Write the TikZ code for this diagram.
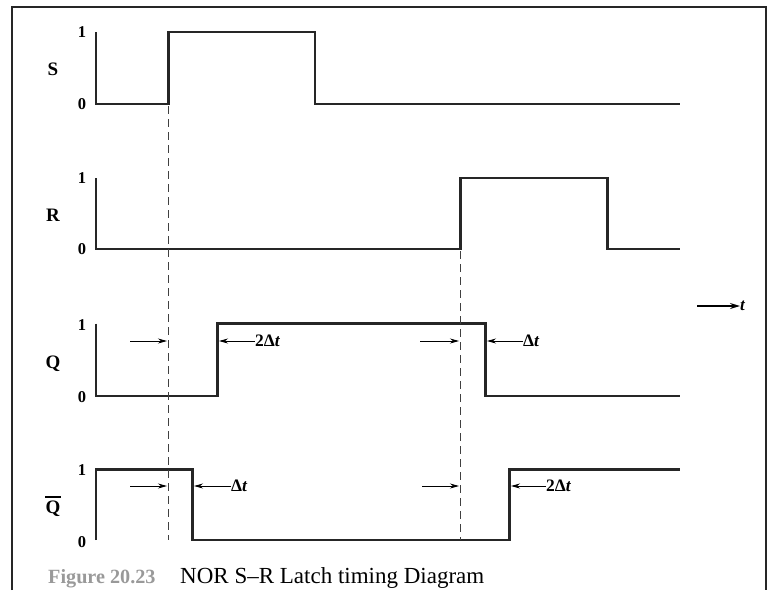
\documentclass[tikz,border=0pt]{standalone}
\usepackage{fontspec}
\setmainfont{Liberation Serif}
\usetikzlibrary{arrows.meta}
\begin{document}
\begin{tikzpicture}[x=1pt,y=-1pt,
  wave/.style={line width=2.2pt, line join=miter, color=black!85},
  guide/.style={line width=0.9pt, dash pattern=on 8pt off 5pt, color=black!75},
  frm/.style={line width=1.8pt, color=black!85},
  marker/.style={line width=0.8pt, -{Stealth[length=9pt,width=5pt]}},
  lvl/.style={font=\fontsize{16.5}{18}\selectfont\bfseries, inner sep=0pt},
  sig/.style={font=\fontsize{19}{22}\selectfont\bfseries, inner sep=0pt},
  dl/.style={font=\fontsize{17.5}{20}\selectfont\bfseries, inner sep=0pt, anchor=west}]
\useasboundingbox (0,0) rectangle (771,590);
% frame
\draw[frm] (12,590) -- (12,7) -- (766,7) -- (766,590);

% S
\node[sig] (sS) at (53,69) {S};
\node[lvl] (s1) at (82,32) {1};
\node[lvl] (s0) at (82,104) {0};
\draw[wave] (96,32) -- (96,104) -- (168.5,104) -- (168.5,32) -- (315,32) -- (315,104) -- (680,104);

% R
\node[sig] (sR) at (53,215) {R};
\node[lvl] (r1) at (82,178) {1};
\node[lvl] (r0) at (82,249) {0};
\draw[wave] (96,178) -- (96,249) -- (460.5,249) -- (460.5,178) -- (607.5,178) -- (607.5,249) -- (680,249);

% Q
\node[sig, anchor=base] (sQ) at (53,368) {Q};
\node[lvl] (q1) at (82,325) {1};
\node[lvl] (q0) at (82,397) {0};
\draw[wave] (96,323.5) -- (96,396) -- (217.5,396) -- (217.5,323.5) -- (485.5,323.5) -- (485.5,396) -- (680,396);

% Qbar
\node[sig, anchor=base] (sQb) at (53,513) {Q};
\draw[line width=1.8pt] ([yshift=3.5pt]sQb.north west) -- ([yshift=3.5pt]sQb.north east);
\node[lvl] (b1) at (82,470) {1};
\node[lvl] (b0) at (82,542) {0};
\draw[wave] (96,540) -- (96,469.5) -- (192.5,469.5) -- (192.5,540) -- (509.5,540) -- (509.5,469.5) -- (680,469.5);

% dashed guides
\coordinate (g1t) at (168.5,106);
\coordinate (g1b) at (168.5,540);
\coordinate (g2t) at (460.5,251);
\coordinate (g2b) at (460.5,540);
\draw[guide] (g1t) -- (g1b);
\draw[guide] (g2t) -- (g2b);

% delay markers, Q row
\coordinate (a1s) at (130,341); \coordinate (a1e) at (167,341);
\draw[marker] (a1s) -- (a1e);
\node[dl] (d1) at (255,341) {2Δ\textit{t}};
\coordinate (a2e) at (219,341);
\draw[marker] (d1.west) -- (a2e);
\coordinate (a3s) at (420,341); \coordinate (a3e) at (459,341);
\draw[marker] (a3s) -- (a3e);
\node[dl] (d2) at (523,341) {Δ\textit{t}};
\coordinate (a4e) at (487,341);
\draw[marker] (d2.west) -- (a4e);

% delay markers, Qbar row
\coordinate (b1s) at (130,486); \coordinate (b1e) at (167,486);
\draw[marker] (b1s) -- (b1e);
\node[dl] (d3) at (231,486) {Δ\textit{t}};
\coordinate (b2e) at (194,486);
\draw[marker] (d3.west) -- (b2e);
\coordinate (b3s) at (422,486); \coordinate (b3e) at (459,486);
\draw[marker] (b3s) -- (b3e);
\node[dl] (d4) at (546,486) {2Δ\textit{t}};
\coordinate (b4e) at (511,486);
\draw[marker] (d4.west) -- (b4e);

% time axis
\node[font=\fontsize{17}{18}\selectfont\bfseries\itshape, inner sep=0pt, anchor=west] (tl) at (740,306) {t};
\coordinate (ts) at (697,306);
\draw[line width=1.4pt, -{Stealth[length=10pt,width=6pt]}] (ts) -- (tl.west);

% caption
\node[anchor=base west, inner sep=0pt, font=\fontsize{20.2}{24}\selectfont\bfseries, text=black!40] (cap1) at (48,583) {Figure 20.23};
\node[anchor=base west, inner sep=0pt, font=\fontsize{23}{26}\selectfont] (cap2) at (180,583) {NOR S–R Latch timing Diagram};
\end{tikzpicture}
\end{document}
